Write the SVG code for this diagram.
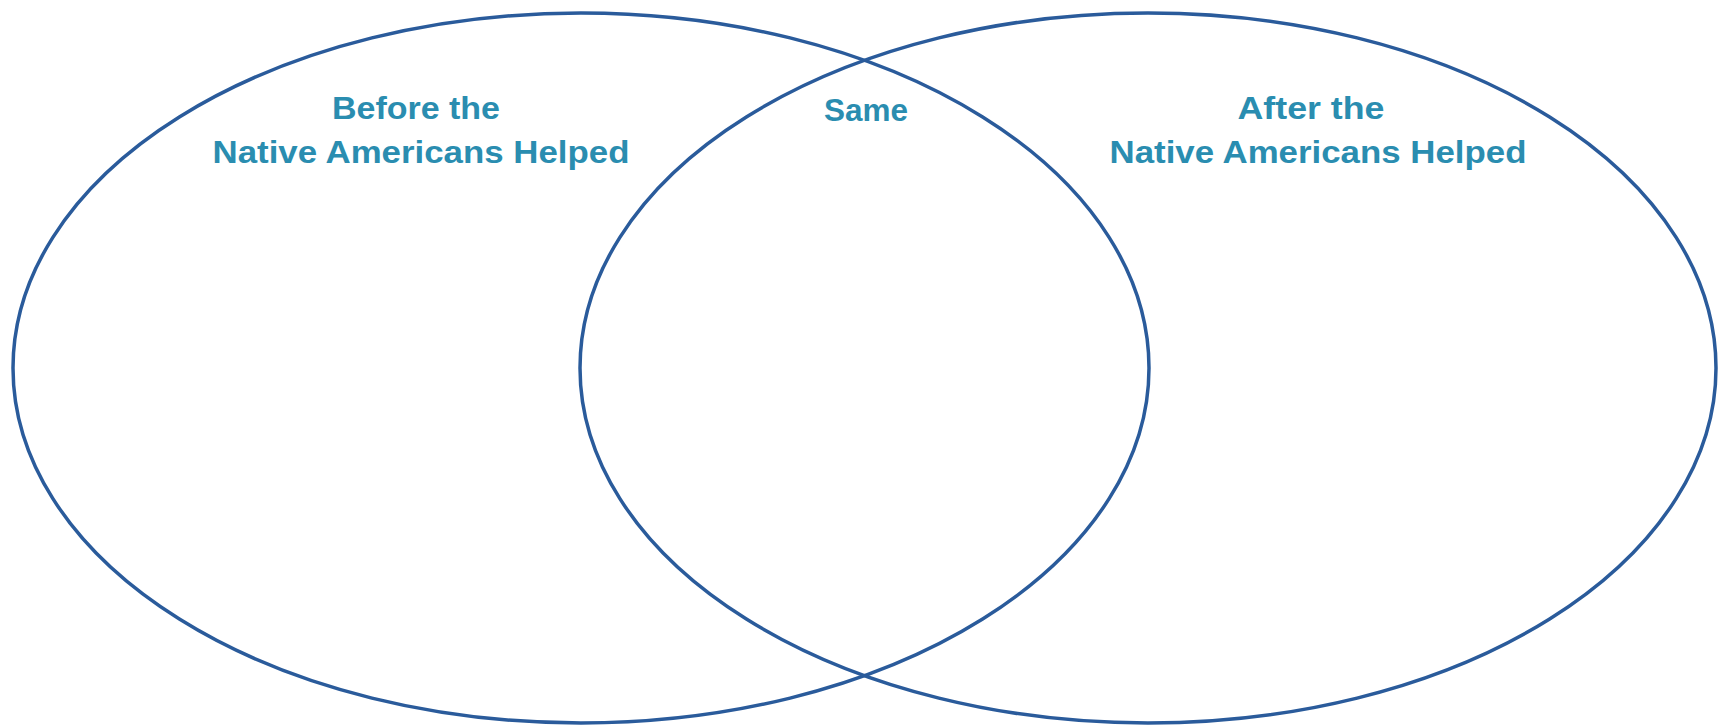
<svg xmlns="http://www.w3.org/2000/svg" width="1719" height="728" viewBox="0 0 1719 728">
<style>
.ring{fill:none;stroke:#2a5b9b;stroke-width:3.5}
.lbl{font-family:"Liberation Sans",Arial,sans-serif;font-weight:bold;font-size:32px;fill:#2a8db0;text-anchor:middle}
</style>
<rect width="1719" height="728" fill="#ffffff"/>
<g id="left">
<ellipse class="ring" cx="581" cy="368" rx="568" ry="355"/>
<text class="lbl" x="416" y="119" textLength="168" lengthAdjust="spacingAndGlyphs">Before the</text>
<text class="lbl" x="421" y="163" textLength="417" lengthAdjust="spacingAndGlyphs">Native Americans Helped</text>
</g>
<g id="right">
<ellipse class="ring" cx="1148" cy="368" rx="568" ry="355"/>
<text class="lbl" x="1311" y="119" textLength="147" lengthAdjust="spacingAndGlyphs">After the</text>
<text class="lbl" x="1318" y="163" textLength="417" lengthAdjust="spacingAndGlyphs">Native Americans Helped</text>
</g>
<g id="same">
<text class="lbl" x="866" y="121" textLength="84" lengthAdjust="spacingAndGlyphs">Same</text>
</g>
<g id="connectors"></g>
</svg>
